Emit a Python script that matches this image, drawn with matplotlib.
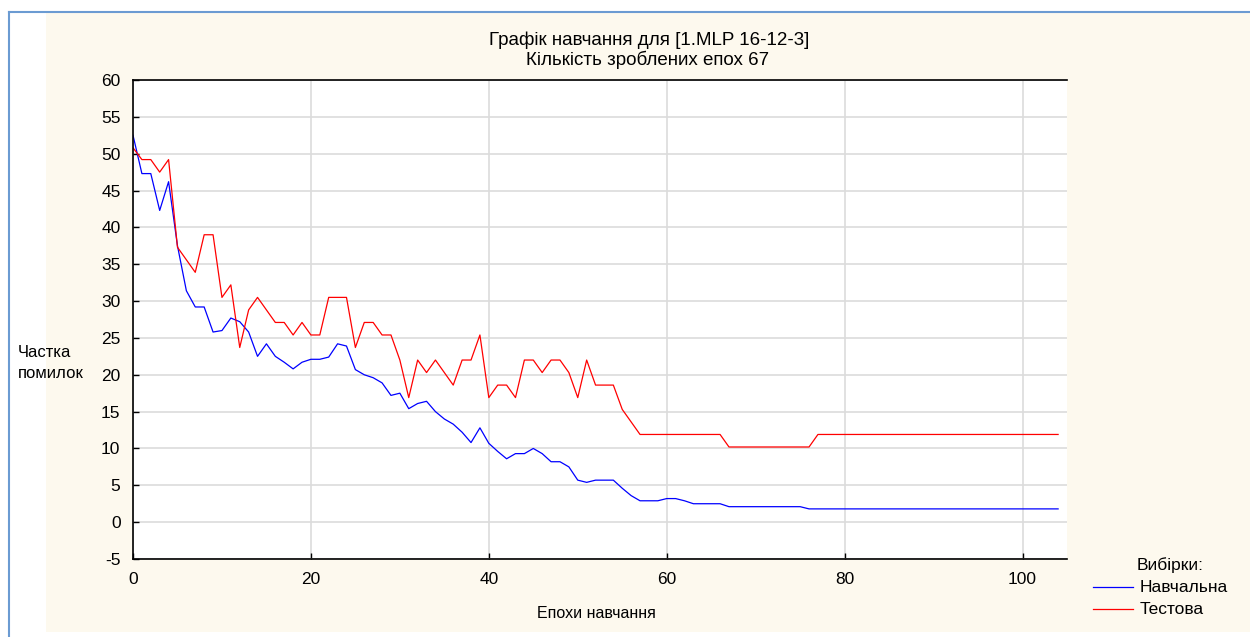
import numpy as np
import matplotlib.pyplot as plt
from matplotlib.patches import Rectangle
from matplotlib.lines import Line2D

plt.rcParams['font.family'] = ['Liberation Sans', 'DejaVu Sans']
plt.rcParams['axes.unicode_minus'] = False

epochs = list(range(0, 105))
train_err = [52.5, 47.3, 47.3, 42.3, 46.2, 37.5, 31.4, 29.2, 29.2, 25.8,
             26.0, 27.7, 27.2, 25.8, 22.5, 24.2, 22.5, 21.7, 20.8, 21.7,
             22.1, 22.1, 22.4, 24.2, 23.9, 20.7, 20.0, 19.6, 18.9, 17.2,
             17.5, 15.4, 16.1, 16.4, 15.0, 14.0, 13.3, 12.2, 10.8, 12.8,
             10.7, 9.6, 8.6, 9.3, 9.3, 10.0, 9.3, 8.2, 8.2, 7.5,
             5.7, 5.4, 5.7, 5.7, 5.7, 4.6, 3.6, 2.9, 2.9, 2.9,
             3.2, 3.2, 2.9, 2.5, 2.5, 2.5, 2.5, 2.1, 2.1, 2.1,
             2.1, 2.1, 2.1, 2.1, 2.1, 2.1, 1.8, 1.8, 1.8, 1.8,
             1.8, 1.8, 1.8, 1.8, 1.8, 1.8, 1.8, 1.8, 1.8, 1.8,
             1.8, 1.8, 1.8, 1.8, 1.8, 1.8, 1.8, 1.8, 1.8, 1.8,
             1.8, 1.8, 1.8, 1.8, 1.8]
test_err = [50.8, 49.2, 49.2, 47.5, 49.2, 37.3, 35.6, 33.9, 39.0, 39.0,
            30.5, 32.2, 23.7, 28.8, 30.5, 28.8, 27.1, 27.1, 25.4, 27.1,
            25.4, 25.4, 30.5, 30.5, 30.5, 23.7, 27.1, 27.1, 25.4, 25.4,
            22.0, 16.9, 22.0, 20.3, 22.0, 20.3, 18.6, 22.0, 22.0, 25.4,
            16.9, 18.6, 18.6, 16.9, 22.0, 22.0, 20.3, 22.0, 22.0, 20.3,
            16.9, 22.0, 18.6, 18.6, 18.6, 15.3, 13.6, 11.9, 11.9, 11.9,
            11.9, 11.9, 11.9, 11.9, 11.9, 11.9, 11.9, 10.2, 10.2, 10.2,
            10.2, 10.2, 10.2, 10.2, 10.2, 10.2, 10.2, 11.9, 11.9, 11.9,
            11.9, 11.9, 11.9, 11.9, 11.9, 11.9, 11.9, 11.9, 11.9, 11.9,
            11.9, 11.9, 11.9, 11.9, 11.9, 11.9, 11.9, 11.9, 11.9, 11.9,
            11.9, 11.9, 11.9, 11.9, 11.9]
series_names = ["Навчальна", "Тестова"]
x_ticks = [0, 20, 40, 60, 80, 100]
y_ticks = list(range(-5, 65, 5))

W, H = 1250, 637
fig = plt.figure(figsize=(W/100, H/100), dpi=100)
fig.patch.set_facecolor('white')
# cream panel and blue frame
fig.patches.append(Rectangle((46/W, 1-632/H), 1-46/W, (632-13)/H, transform=fig.transFigure,
                             facecolor='#fdf9ee', edgecolor='none', zorder=-5))
fig.lines.append(Line2D([9/W, 1], [1-12/H, 1-12/H], transform=fig.transFigure, color='#6b9bd2', lw=1.5, zorder=-4))
fig.lines.append(Line2D([9/W, 9/W], [0, 1-12/H], transform=fig.transFigure, color='#6b9bd2', lw=1.5, zorder=-4))

ax = fig.add_axes([133/W, 1-559/H, (1067-133)/W, (559-80)/H])
ax.set_zorder(1)
ax.set_facecolor('white')
ax.plot(epochs, train_err, color='#0000ff', lw=0.9)
ax.plot(epochs, test_err, color='#ff0000', lw=0.9)
ax.set_xlim(0, 105)
ax.set_ylim(-5, 60)
ax.set_xticks(x_ticks)
ax.set_yticks(y_ticks)
ax.grid(True, color='#dcdcdc', lw=1.2)
ax.set_axisbelow(True)
ax.tick_params(direction='in', length=4, width=1, labelsize=12.5, pad=9)
ax.spines['right'].set_visible(False)
for s in ['left', 'bottom', 'top']:
    ax.spines[s].set_linewidth(1.2)

fig.text(649/W, 1-40/H, "Графік навчання для [1.MLP 16-12-3]", ha='center', va='center', fontsize=13.5)
fig.text(648/W, 1-60/H, "Кількість зроблених епох 67", ha='center', va='center', fontsize=13.5)
fig.text(596/W, 1-613/H, "Епохи навчання", ha='center', va='center', fontsize=11.5)
fig.text(18/W, 1-363/H, "Частка\nпомилок", ha='left', va='center', fontsize=12, linespacing=1.45)

# legend
fig.text(1170/W, 1-565/H, "Вибірки:", ha='center', va='center', fontsize=12.5)
colors = ['#0000ff', '#ff0000']
for i, (name, c) in enumerate(zip(series_names, colors)):
    yy = 1-(587+22*i)/H
    fig.lines.append(Line2D([1093/W, 1133/W], [yy, yy], transform=fig.transFigure, color=c, lw=0.9))
    fig.text(1140/W, yy, name, ha='left', va='center', fontsize=12.5)

fig.savefig("out.png", dpi=100)
